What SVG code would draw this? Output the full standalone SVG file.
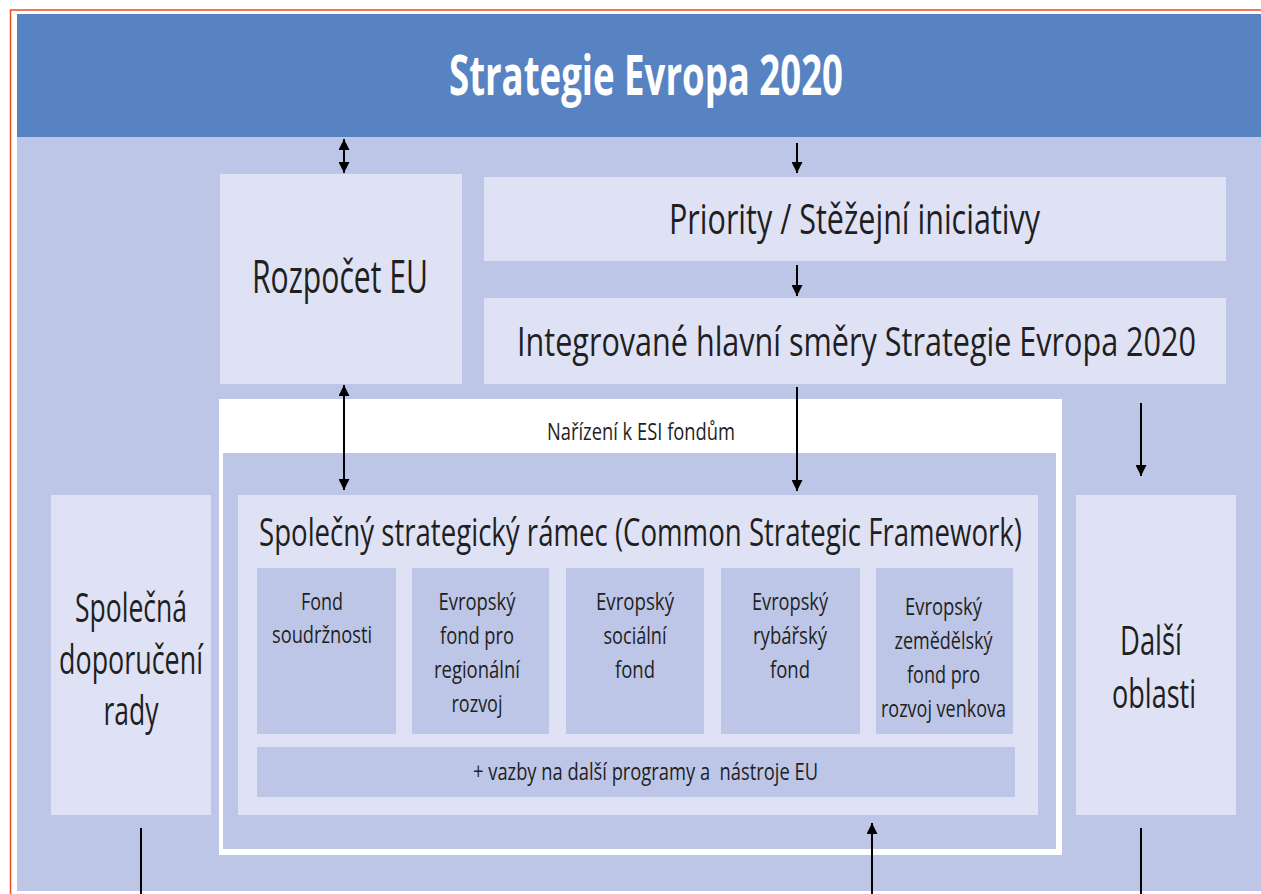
<svg xmlns="http://www.w3.org/2000/svg" width="1261" height="894" viewBox="0 0 1261 894">
<style>
.t{font-family:"Open Sans","Noto Sans","Liberation Sans",sans-serif;fill:#1f1f1f;}
.c{text-anchor:middle;}
.light{fill:#DFE2F5;}
.mid{fill:#BEC6E7;}
.ln{stroke:#000;stroke-width:2;fill:none;}
</style>
<defs>
<marker id="ah" viewBox="0 0 10 10" refX="10" refY="5" markerWidth="11" markerHeight="11" markerUnits="userSpaceOnUse" orient="auto-start-reverse">
<path d="M0,0 L10,5 L0,10 z" fill="#000"/>
</marker>
</defs>
<rect x="0" y="0" width="1261" height="894" fill="#ffffff"/>
<line x1="10" y1="10" x2="1261" y2="10" stroke="#F04A1E" stroke-width="1.5"/>
<line x1="10.5" y1="10" x2="10.5" y2="894" stroke="#F04A1E" stroke-width="1.5"/>
<rect x="17" y="137" width="1244" height="754" class="mid"/>

<g id="header">
<rect x="17" y="14" width="1244" height="123" fill="#5883C2"/>
<text class="t c" x="646" y="95" font-size="55" font-weight="bold" fill="#ffffff" style="fill:#ffffff" textLength="394" lengthAdjust="spacingAndGlyphs">Strategie Evropa 2020</text>
</g>

<g id="rozpocet">
<rect x="220" y="174" width="242" height="210" class="light"/>
<text class="t c" x="340" y="293" font-size="46" textLength="176" lengthAdjust="spacingAndGlyphs">Rozpočet EU</text>
</g>

<g id="priority">
<rect x="484" y="177" width="742" height="84" class="light"/>
<text class="t c" x="854.5" y="234" font-size="42" textLength="371" lengthAdjust="spacingAndGlyphs">Priority / Stěžejní iniciativy</text>
</g>

<g id="integrovane">
<rect x="484" y="298" width="742" height="86" class="light"/>
<text class="t c" x="856.5" y="356" font-size="41" textLength="679" lengthAdjust="spacingAndGlyphs">Integrované hlavní směry Strategie Evropa 2020</text>
</g>

<g id="narizeni">
<rect x="219" y="399" width="843" height="456" fill="#ffffff"/>
<rect x="223" y="453" width="833" height="396" class="mid"/>
<text class="t c" x="641" y="440" font-size="24" textLength="188" lengthAdjust="spacingAndGlyphs">Nařízení k ESI fondům</text>
</g>

<g id="ssr">
<rect x="238" y="495" width="800" height="320" class="light"/>
<text class="t c" x="640.5" y="546" font-size="39" textLength="763" lengthAdjust="spacingAndGlyphs">Společný strategický rámec (Common Strategic Framework)</text>
</g>

<g id="fond1">
<rect x="257" y="568" width="139" height="166" class="mid"/>
<text class="t c" x="322" y="610" font-size="24" textLength="42" lengthAdjust="spacingAndGlyphs">Fond</text>
<text class="t c" x="322" y="643" font-size="24" textLength="100" lengthAdjust="spacingAndGlyphs">soudržnosti</text>
</g>

<g id="fond2">
<rect x="412" y="568" width="137" height="166" class="mid"/>
<text class="t c" x="477" y="610" font-size="24" textLength="77" lengthAdjust="spacingAndGlyphs">Evropský</text>
<text class="t c" x="477" y="644" font-size="24" textLength="74" lengthAdjust="spacingAndGlyphs">fond pro</text>
<text class="t c" x="477" y="678" font-size="24" textLength="86" lengthAdjust="spacingAndGlyphs">regionální</text>
<text class="t c" x="477" y="712" font-size="24" textLength="51" lengthAdjust="spacingAndGlyphs">rozvoj</text>
</g>

<g id="fond3">
<rect x="566" y="568" width="138" height="166" class="mid"/>
<text class="t c" x="635" y="610" font-size="24" textLength="78" lengthAdjust="spacingAndGlyphs">Evropský</text>
<text class="t c" x="635" y="644" font-size="24" textLength="63" lengthAdjust="spacingAndGlyphs">sociální</text>
<text class="t c" x="635" y="678" font-size="24" textLength="40" lengthAdjust="spacingAndGlyphs">fond</text>
</g>

<g id="fond4">
<rect x="721" y="568" width="139" height="166" class="mid"/>
<text class="t c" x="790" y="610" font-size="24" textLength="76" lengthAdjust="spacingAndGlyphs">Evropský</text>
<text class="t c" x="790" y="644" font-size="24" textLength="74" lengthAdjust="spacingAndGlyphs">rybářský</text>
<text class="t c" x="790" y="678" font-size="24" textLength="40" lengthAdjust="spacingAndGlyphs">fond</text>
</g>

<g id="fond5">
<rect x="876" y="568" width="137" height="166" class="mid"/>
<text class="t c" x="943.5" y="615" font-size="24" textLength="77" lengthAdjust="spacingAndGlyphs">Evropský</text>
<text class="t c" x="943.5" y="649" font-size="24" textLength="98" lengthAdjust="spacingAndGlyphs">zemědělský</text>
<text class="t c" x="943.5" y="683" font-size="24" textLength="73" lengthAdjust="spacingAndGlyphs">fond pro</text>
<text class="t c" x="943.5" y="717" font-size="24" textLength="125" lengthAdjust="spacingAndGlyphs">rozvoj venkova</text>
</g>

<g id="vazby">
<rect x="257" y="747" width="758" height="50" class="mid"/>
<text class="t" x="473" y="780" font-size="24" xml:space="preserve" style="white-space:pre" textLength="345" lengthAdjust="spacingAndGlyphs">+ vazby na další programy a  nástroje EU</text>
</g>

<g id="spolecna">
<rect x="51" y="495" width="160" height="320" class="light"/>
<text class="t c" x="131" y="622" font-size="40" textLength="112" lengthAdjust="spacingAndGlyphs">Společná</text>
<text class="t c" x="131" y="674" font-size="40" textLength="144" lengthAdjust="spacingAndGlyphs">doporučení</text>
<text class="t c" x="131" y="725" font-size="40" textLength="55" lengthAdjust="spacingAndGlyphs">rady</text>
</g>

<g id="dalsi">
<rect x="1076" y="495" width="160" height="320" class="light"/>
<text class="t c" x="1151" y="655" font-size="40" textLength="62" lengthAdjust="spacingAndGlyphs">Další</text>
<text class="t c" x="1154" y="708" font-size="40" textLength="84" lengthAdjust="spacingAndGlyphs">oblasti</text>
</g>

<g id="connectors">
<line class="ln" x1="344" y1="139" x2="344" y2="173" marker-start="url(#ah)" marker-end="url(#ah)"/>
<line class="ln" x1="797" y1="143" x2="797" y2="173" marker-end="url(#ah)"/>
<line class="ln" x1="797" y1="265" x2="797" y2="296" marker-end="url(#ah)"/>
<line class="ln" x1="797" y1="387" x2="797" y2="491" marker-end="url(#ah)"/>
<line class="ln" x1="344" y1="385" x2="344" y2="490" marker-start="url(#ah)" marker-end="url(#ah)"/>
<line class="ln" x1="1141" y1="403" x2="1141" y2="476" marker-end="url(#ah)"/>
<line class="ln" x1="141" y1="828" x2="141" y2="894"/>
<line class="ln" x1="1141" y1="828" x2="1141" y2="894"/>
<line class="ln" x1="872" y1="894" x2="872" y2="823" marker-end="url(#ah)"/>
</g>
</svg>
